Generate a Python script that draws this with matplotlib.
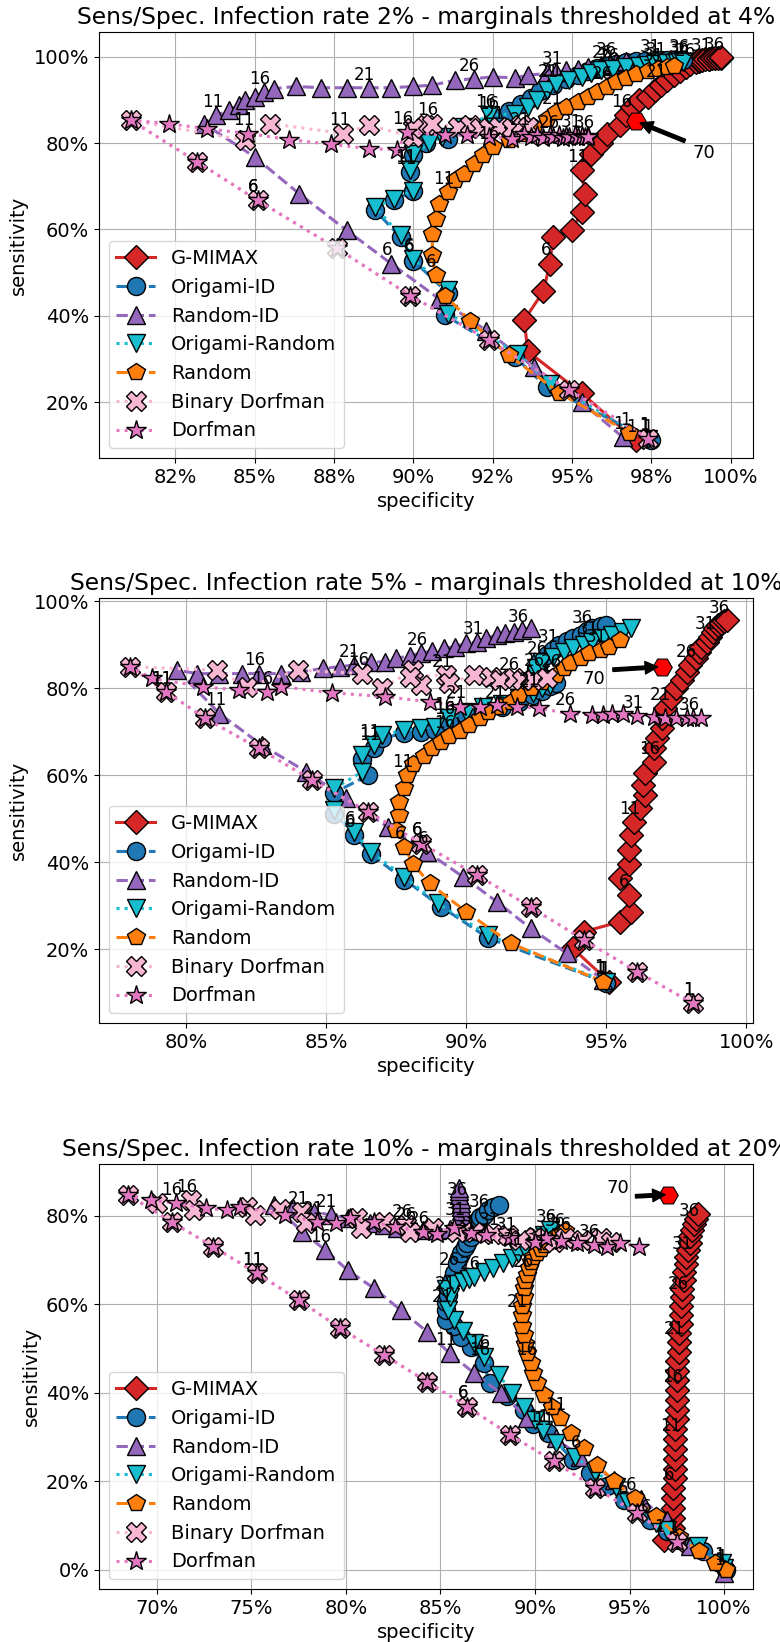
import matplotlib
matplotlib.use('Agg')
from matplotlib import pyplot as plt

plt.rcParams['font.size'] = 14

methods = ['G-MIMAX', 'Origami-ID', 'Random-ID', 'Origami-Random', 'Random', 'Binary Dorfman', 'Dorfman']
colors = ['#d62728', '#1f77b4', '#9467bd', '#17becf', '#ff7f0e', '#f7b6d2', '#e377c2']
markers = ['D', 'o', '^', 'v', 'p', 'X', '*']
linestyles = ['-', '--', '--', ':', '--', ':', ':']
msizes = [12.5, 13, 13, 13, 13, 14, 15]

titles = ['Sens/Spec. Infection rate 2% - marginals thresholded at 4%',
          'Sens/Spec. Infection rate 5% - marginals thresholded at 10%',
          'Sens/Spec. Infection rate 10% - marginals thresholded at 20%']

# ---------------- panel 1 (rate 2%) ----------------
p1_gmimax_spec = [0.970, 0.953, 0.936, 0.935, 0.941, 0.943, 0.944, 0.950, 0.953, 0.954, 0.953, 0.956, 0.959, 0.961, 0.965,
                  0.967, 0.969, 0.971, 0.974, 0.976, 0.978, 0.980, 0.982, 0.984, 0.986, 0.987, 0.989, 0.990, 0.990, 0.991,
                  0.992, 0.993, 0.993, 0.994, 0.995, 0.996, 0.997, 0.997]
p1_gmimax_sens = [0.112, 0.221, 0.318, 0.391, 0.457, 0.521, 0.582, 0.598, 0.640, 0.683, 0.737, 0.775, 0.799, 0.822, 0.841,
                  0.864, 0.883, 0.899, 0.906, 0.922, 0.934, 0.945, 0.957, 0.967, 0.976, 0.982, 0.988, 0.991, 0.992, 0.993,
                  0.994, 0.995, 0.995, 0.996, 0.996, 0.997, 0.998, 0.999]
p1_origid_spec = [0.975, 0.942, 0.932, 0.910, 0.911, 0.900, 0.896, 0.888, 0.894, 0.900, 0.899, 0.900, 0.904, 0.911, 0.918,
                  0.925, 0.930, 0.934, 0.937, 0.940, 0.944, 0.948, 0.952, 0.955, 0.958, 0.961, 0.964, 0.967, 0.970, 0.973,
                  0.976, 0.978, 0.980, 0.982, 0.984, 0.985]
p1_origid_sens = [0.112, 0.235, 0.305, 0.401, 0.452, 0.528, 0.582, 0.644, 0.667, 0.690, 0.733, 0.772, 0.799, 0.810, 0.835,
                  0.860, 0.875, 0.890, 0.905, 0.920, 0.935, 0.948, 0.958, 0.966, 0.973, 0.979, 0.984, 0.987, 0.989, 0.990,
                  0.991, 0.992, 0.992, 0.993, 0.993, 0.992]
p1_randid_spec = [0.966, 0.953, 0.938, 0.923, 0.908, 0.893, 0.879, 0.864, 0.850, 0.834, 0.838, 0.842, 0.845, 0.847, 0.850,
                  0.853, 0.856, 0.863, 0.871, 0.879, 0.886, 0.893, 0.900, 0.906, 0.913, 0.919, 0.925, 0.932, 0.936, 0.942,
                  0.945, 0.948, 0.952, 0.955, 0.959, 0.962, 0.964, 0.967]
p1_randid_sens = [0.119, 0.200, 0.281, 0.366, 0.440, 0.521, 0.598, 0.683, 0.768, 0.845, 0.864, 0.876, 0.887, 0.899, 0.906,
                  0.918, 0.926, 0.931, 0.928, 0.928, 0.928, 0.928, 0.931, 0.934, 0.945, 0.949, 0.953, 0.951, 0.957, 0.961,
                  0.964, 0.968, 0.972, 0.976, 0.980, 0.984, 0.988, 0.991]
p1_origrand_spec = [0.974, 0.943, 0.933, 0.911, 0.911, 0.900, 0.896, 0.888, 0.894, 0.900, 0.899, 0.900, 0.905, 0.909, 0.916,
                    0.924, 0.932, 0.936, 0.939, 0.942, 0.945, 0.949, 0.953, 0.956, 0.959, 0.963, 0.967, 0.971, 0.974, 0.976,
                    0.978, 0.980, 0.982, 0.983, 0.984, 0.985]
p1_origrand_sens = [0.115, 0.243, 0.312, 0.405, 0.459, 0.532, 0.586, 0.652, 0.671, 0.690, 0.737, 0.775, 0.799, 0.814, 0.838,
                    0.864, 0.868, 0.883, 0.899, 0.922, 0.937, 0.945, 0.953, 0.961, 0.968, 0.972, 0.976, 0.979, 0.981, 0.983,
                    0.984, 0.985, 0.986, 0.986, 0.987, 0.987]
p1_random_spec = [0.968, 0.946, 0.930, 0.918, 0.910, 0.907, 0.906, 0.906, 0.907, 0.908, 0.911, 0.913, 0.916, 0.919, 0.922,
                  0.925, 0.930, 0.934, 0.938, 0.942, 0.945, 0.948, 0.952, 0.955, 0.958, 0.961, 0.964, 0.967, 0.970, 0.974,
                  0.977, 0.980, 0.982]
p1_random_sens = [0.129, 0.222, 0.309, 0.388, 0.447, 0.495, 0.540, 0.590, 0.625, 0.660, 0.687, 0.714, 0.729, 0.752, 0.772,
                  0.791, 0.806, 0.822, 0.837, 0.856, 0.872, 0.883, 0.895, 0.906, 0.918, 0.930, 0.941, 0.951, 0.959, 0.966,
                  0.972, 0.976, 0.978]
p1_bdorf_spec = [0.974, 0.949, 0.924, 0.899, 0.876, 0.851, 0.832, 0.811, 0.847, 0.855, 0.878, 0.886, 0.900, 0.904, 0.900,
                 0.906, 0.914, 0.918, 0.921, 0.924, 0.927, 0.931, 0.934, 0.936]
p1_bdorf_sens = [0.116, 0.229, 0.343, 0.447, 0.556, 0.667, 0.756, 0.853, 0.806, 0.845, 0.822, 0.841, 0.814, 0.841, 0.834,
                 0.845, 0.837, 0.841, 0.834, 0.834, 0.837, 0.834, 0.841, 0.836]
p1_dorf_spec = [0.974, 0.949, 0.924, 0.899, 0.876, 0.851, 0.832, 0.811, 0.823, 0.835, 0.848, 0.861, 0.874, 0.886, 0.895,
                0.898, 0.910, 0.917, 0.924, 0.931, 0.935, 0.937, 0.939, 0.941, 0.943, 0.944, 0.946, 0.947, 0.948, 0.949,
                0.951, 0.952, 0.953, 0.954, 0.955, 0.955]
p1_dorf_sens = [0.116, 0.229, 0.343, 0.447, 0.556, 0.667, 0.756, 0.853, 0.845, 0.833, 0.822, 0.808, 0.797, 0.787, 0.785,
                0.825, 0.818, 0.818, 0.814, 0.810, 0.822, 0.815, 0.818, 0.812, 0.818, 0.815, 0.818, 0.812, 0.816, 0.814,
                0.818, 0.814, 0.817, 0.813, 0.817, 0.815]

# ---------------- panel 2 (rate 5%) ----------------
p2_gmimax_spec = [0.951, 0.938, 0.942, 0.955, 0.959, 0.958, 0.955, 0.958, 0.958, 0.959, 0.960, 0.962, 0.964, 0.963, 0.964,
                  0.967, 0.967, 0.968, 0.970, 0.970, 0.971, 0.973, 0.975, 0.977, 0.979, 0.980, 0.982, 0.983, 0.984, 0.986,
                  0.987, 0.988, 0.989, 0.990, 0.991, 0.992, 0.993]
p2_gmimax_sens = [0.125, 0.202, 0.240, 0.263, 0.286, 0.324, 0.363, 0.397, 0.428, 0.462, 0.493, 0.524, 0.554, 0.578, 0.605,
                  0.631, 0.662, 0.685, 0.708, 0.731, 0.754, 0.777, 0.800, 0.819, 0.838, 0.854, 0.869, 0.884, 0.896, 0.907,
                  0.919, 0.929, 0.938, 0.945, 0.950, 0.954, 0.957]
p2_origid_spec = [0.950, 0.908, 0.891, 0.878, 0.866, 0.860, 0.853, 0.853, 0.865, 0.863, 0.867, 0.870, 0.878, 0.884, 0.889,
                  0.894, 0.900, 0.906, 0.913, 0.919, 0.924, 0.927, 0.930, 0.932, 0.929, 0.926, 0.925, 0.926, 0.926, 0.929,
                  0.931, 0.933, 0.936, 0.938, 0.941, 0.943, 0.945, 0.948, 0.950]
p2_origid_sens = [0.123, 0.225, 0.298, 0.360, 0.418, 0.463, 0.512, 0.560, 0.600, 0.637, 0.662, 0.685, 0.697, 0.700, 0.704,
                  0.722, 0.738, 0.750, 0.757, 0.769, 0.785, 0.795, 0.805, 0.812, 0.822, 0.833, 0.845, 0.855, 0.861, 0.877,
                  0.888, 0.900, 0.909, 0.916, 0.924, 0.932, 0.938, 0.943, 0.947]
p2_randid_spec = [0.949, 0.936, 0.923, 0.911, 0.899, 0.886, 0.872, 0.857, 0.843, 0.827, 0.812, 0.797, 0.804, 0.812, 0.820,
                  0.826, 0.834, 0.841, 0.849, 0.855, 0.860, 0.866, 0.871, 0.875, 0.880, 0.884, 0.888, 0.892, 0.896, 0.900,
                  0.904, 0.907, 0.911, 0.914, 0.917, 0.920, 0.923]
p2_randid_sens = [0.129, 0.190, 0.248, 0.309, 0.366, 0.424, 0.481, 0.547, 0.608, 0.670, 0.742, 0.842, 0.834, 0.834, 0.834,
                  0.834, 0.834, 0.838, 0.846, 0.850, 0.854, 0.861, 0.861, 0.869, 0.875, 0.882, 0.886, 0.892, 0.896, 0.904,
                  0.907, 0.915, 0.923, 0.927, 0.930, 0.934, 0.938]
p2_origrand_spec = [0.950, 0.908, 0.890, 0.878, 0.866, 0.860, 0.853, 0.853, 0.863, 0.863, 0.867, 0.870, 0.878, 0.884, 0.889,
                    0.894, 0.900, 0.906, 0.913, 0.919, 0.924, 0.927, 0.930, 0.925, 0.925, 0.927, 0.931, 0.935, 0.938, 0.942,
                    0.945, 0.949, 0.952, 0.956, 0.959]
p2_origrand_sens = [0.125, 0.232, 0.305, 0.366, 0.424, 0.470, 0.520, 0.570, 0.608, 0.647, 0.670, 0.693, 0.704, 0.708, 0.712,
                    0.731, 0.746, 0.758, 0.765, 0.777, 0.789, 0.800, 0.808, 0.830, 0.846, 0.861, 0.873, 0.884, 0.892, 0.900,
                    0.907, 0.915, 0.923, 0.930, 0.938]
p2_random_spec = [0.949, 0.916, 0.900, 0.887, 0.881, 0.878, 0.875, 0.876, 0.876, 0.878, 0.879, 0.881, 0.885, 0.888, 0.891,
                  0.894, 0.898, 0.901, 0.905, 0.908, 0.912, 0.916, 0.919, 0.923, 0.927, 0.932, 0.935, 0.937, 0.941, 0.944,
                  0.948, 0.951, 0.955]
p2_random_sens = [0.125, 0.213, 0.286, 0.351, 0.397, 0.435, 0.474, 0.508, 0.539, 0.570, 0.600, 0.625, 0.645, 0.663, 0.677,
                  0.690, 0.703, 0.716, 0.731, 0.746, 0.758, 0.769, 0.785, 0.800, 0.815, 0.831, 0.846, 0.858, 0.869, 0.881,
                  0.888, 0.896, 0.911]
p2_bdorf_spec = [0.981, 0.961, 0.942, 0.923, 0.904, 0.884, 0.865, 0.845, 0.826, 0.807, 0.793, 0.780, 0.811, 0.822, 0.840,
                 0.863, 0.870, 0.881, 0.884, 0.880, 0.893, 0.894, 0.903, 0.909, 0.912, 0.917, 0.920, 0.924, 0.929]
p2_bdorf_sens = [0.075, 0.148, 0.221, 0.297, 0.370, 0.443, 0.516, 0.589, 0.662, 0.731, 0.792, 0.850, 0.842, 0.804, 0.842,
                 0.834, 0.800, 0.842, 0.808, 0.827, 0.831, 0.812, 0.831, 0.827, 0.819, 0.823, 0.819, 0.819, 0.823]
p2_dorf_spec = [0.981, 0.961, 0.942, 0.923, 0.904, 0.884, 0.865, 0.845, 0.826, 0.807, 0.793, 0.780, 0.788, 0.806, 0.819,
                0.829, 0.834, 0.852, 0.871, 0.887, 0.898, 0.905, 0.911, 0.918, 0.926, 0.937, 0.945, 0.949, 0.952, 0.956,
                0.961, 0.967, 0.971, 0.975, 0.979, 0.981, 0.984]
p2_dorf_sens = [0.075, 0.148, 0.221, 0.297, 0.370, 0.443, 0.516, 0.589, 0.662, 0.731, 0.792, 0.850, 0.823, 0.804, 0.796,
                0.792, 0.804, 0.790, 0.781, 0.769, 0.758, 0.758, 0.762, 0.758, 0.754, 0.742, 0.739, 0.739, 0.742, 0.740,
                0.737, 0.735, 0.733, 0.733, 0.731, 0.731, 0.731]

# ---------------- panel 3 (rate 10%) ----------------
p3_gmimax_spec = [0.968, 0.973, 0.973, 0.973, 0.973, 0.973, 0.974, 0.974, 0.974, 0.974, 0.974, 0.974, 0.975, 0.975, 0.975,
                  0.975, 0.975, 0.975, 0.975, 0.976, 0.976, 0.976, 0.977, 0.977, 0.977, 0.978, 0.978, 0.979, 0.979, 0.980,
                  0.980, 0.981, 0.982, 0.982, 0.983, 0.984, 0.985, 0.986]
p3_gmimax_sens = [0.068, 0.095, 0.118, 0.140, 0.162, 0.185, 0.207, 0.229, 0.251, 0.273, 0.296, 0.318, 0.340, 0.362, 0.384,
                  0.406, 0.428, 0.450, 0.471, 0.493, 0.514, 0.535, 0.556, 0.576, 0.596, 0.616, 0.635, 0.654, 0.672, 0.690,
                  0.707, 0.723, 0.739, 0.754, 0.768, 0.781, 0.793, 0.805]
p3_origid_spec = [1.001, 0.998, 0.989, 0.976, 0.970, 0.961, 0.947, 0.938, 0.929, 0.920, 0.907, 0.899, 0.894, 0.885, 0.876,
                  0.873, 0.866, 0.861, 0.857, 0.853, 0.853, 0.853, 0.854, 0.854, 0.856, 0.857, 0.859, 0.861, 0.863, 0.864,
                  0.866, 0.867, 0.868, 0.870, 0.871, 0.873, 0.875, 0.878, 0.881]
p3_origid_sens = [0.000, 0.015, 0.042, 0.068, 0.087, 0.113, 0.158, 0.189, 0.219, 0.249, 0.309, 0.330, 0.362, 0.392, 0.422,
                  0.467, 0.504, 0.527, 0.550, 0.565, 0.587, 0.605, 0.622, 0.640, 0.655, 0.670, 0.693, 0.715, 0.729, 0.738,
                  0.752, 0.765, 0.775, 0.790, 0.797, 0.802, 0.813, 0.820, 0.824]
p3_randid_spec = [1.000, 0.982, 0.970, 0.956, 0.942, 0.924, 0.911, 0.896, 0.882, 0.868, 0.855, 0.843, 0.829, 0.815, 0.801,
                  0.789, 0.777, 0.762, 0.772, 0.783, 0.792, 0.801, 0.813, 0.820, 0.827, 0.834, 0.841, 0.848, 0.855, 0.860,
                  0.860, 0.861, 0.861, 0.861, 0.861, 0.861, 0.861, 0.860, 0.860, 0.860]
p3_randid_sens = [-0.007, 0.053, 0.113, 0.160, 0.203, 0.256, 0.297, 0.343, 0.399, 0.444, 0.489, 0.538, 0.587, 0.636, 0.677,
                  0.723, 0.764, 0.824, 0.817, 0.809, 0.802, 0.794, 0.783, 0.779, 0.772, 0.772, 0.768, 0.768, 0.770, 0.775,
                  0.784, 0.793, 0.802, 0.811, 0.820, 0.829, 0.838, 0.847, 0.855, 0.862]
p3_origrand_spec = [1.000, 0.999, 0.986, 0.970, 0.964, 0.949, 0.943, 0.932, 0.921, 0.911, 0.904, 0.900, 0.894, 0.888, 0.881,
                    0.873, 0.868, 0.862, 0.857, 0.854, 0.855, 0.853, 0.857, 0.862, 0.865, 0.868, 0.873, 0.878, 0.883, 0.888,
                    0.891, 0.895, 0.898, 0.902, 0.905, 0.908]
p3_origrand_sens = [0.004, 0.015, 0.053, 0.091, 0.106, 0.154, 0.188, 0.222, 0.256, 0.287, 0.316, 0.339, 0.369, 0.400, 0.440,
                    0.482, 0.512, 0.540, 0.565, 0.587, 0.617, 0.635, 0.647, 0.651, 0.657, 0.662, 0.673, 0.681, 0.693, 0.704,
                    0.715, 0.726, 0.738, 0.745, 0.756, 0.768]
p3_random_spec = [1.001, 0.995, 0.987, 0.976, 0.964, 0.953, 0.942, 0.933, 0.926, 0.919, 0.913, 0.909, 0.905, 0.901, 0.899,
                  0.898, 0.896, 0.895, 0.894, 0.893, 0.893, 0.893, 0.894, 0.894, 0.895, 0.896, 0.897, 0.898, 0.899, 0.901,
                  0.903, 0.905, 0.907, 0.909, 0.911, 0.913, 0.915, 0.916]
p3_random_sens = [0.000, 0.015, 0.042, 0.075, 0.121, 0.162, 0.200, 0.237, 0.275, 0.309, 0.343, 0.369, 0.395, 0.422, 0.444,
                  0.467, 0.489, 0.510, 0.530, 0.552, 0.575, 0.597, 0.617, 0.636, 0.652, 0.667, 0.682, 0.695, 0.706, 0.716,
                  0.725, 0.733, 0.741, 0.748, 0.754, 0.759, 0.762, 0.765]
p3_bdorf_spec = [0.975, 0.954, 0.932, 0.910, 0.887, 0.864, 0.843, 0.820, 0.797, 0.775, 0.753, 0.730, 0.708, 0.685, 0.700,
                 0.718, 0.720, 0.748, 0.752, 0.765, 0.777, 0.779, 0.806, 0.808, 0.820, 0.832, 0.834, 0.846, 0.859, 0.868,
                 0.878, 0.886, 0.892, 0.900, 0.910, 0.916, 0.925, 0.935, 0.940]
p3_bdorf_sens = [0.064, 0.128, 0.185, 0.245, 0.305, 0.369, 0.425, 0.486, 0.546, 0.610, 0.670, 0.730, 0.786, 0.847, 0.830,
                 0.835, 0.813, 0.820, 0.802, 0.815, 0.809, 0.783, 0.794, 0.772, 0.785, 0.779, 0.764, 0.772, 0.764, 0.764,
                 0.760, 0.756, 0.745, 0.752, 0.741, 0.749, 0.745, 0.749, 0.741]
p3_dorf_spec = [0.975, 0.954, 0.932, 0.910, 0.887, 0.864, 0.843, 0.820, 0.797, 0.775, 0.753, 0.730, 0.708, 0.685, 0.697,
                0.710, 0.726, 0.737, 0.744, 0.768, 0.785, 0.795, 0.802, 0.815, 0.826, 0.841, 0.848, 0.857, 0.866, 0.874,
                0.887, 0.900, 0.906, 0.914, 0.922, 0.931, 0.938, 0.945, 0.955]
p3_dorf_sens = [0.064, 0.128, 0.185, 0.245, 0.305, 0.369, 0.425, 0.486, 0.546, 0.610, 0.670, 0.730, 0.786, 0.847, 0.835,
                0.828, 0.817, 0.813, 0.820, 0.802, 0.786, 0.783, 0.794, 0.785, 0.775, 0.764, 0.760, 0.772, 0.762, 0.756,
                0.749, 0.741, 0.749, 0.742, 0.738, 0.734, 0.730, 0.738, 0.730]

# the highlighted point "70" in each panel
best_spec = [0.970, 0.970, 0.9705]
best_sens = [0.851, 0.850, 0.848]
best_text_offset = [(49, -23), (-49, -9), (-36, 5)]

# axis ticks
p1_xticks = [0.825, 0.85, 0.875, 0.9, 0.925, 0.95, 0.975, 1.0]
p1_xticklabels = ['82%', '85%', '88%', '90%', '92%', '95%', '98%', '100%']
p2_xticks = [0.80, 0.85, 0.90, 0.95, 1.0]
p2_xticklabels = ['80%', '85%', '90%', '95%', '100%']
p3_xticks = [0.70, 0.75, 0.80, 0.85, 0.90, 0.95, 1.0]
p3_xticklabels = ['70%', '75%', '80%', '85%', '90%', '95%', '100%']
p12_yticks = [0.2, 0.4, 0.6, 0.8, 1.0]
p12_yticklabels = ['20%', '40%', '60%', '80%', '100%']
p3_yticks = [0.0, 0.2, 0.4, 0.6, 0.8]
p3_yticklabels = ['0%', '20%', '40%', '60%', '80%']

panels = [
    {'series': [(p1_gmimax_spec, p1_gmimax_sens), (p1_origid_spec, p1_origid_sens), (p1_randid_spec, p1_randid_sens),
                (p1_origrand_spec, p1_origrand_sens), (p1_random_spec, p1_random_sens),
                (p1_bdorf_spec, p1_bdorf_sens), (p1_dorf_spec, p1_dorf_sens)],
     'rect': [0.1269, 0.7211, 0.8385, 0.2594], 'xlim': (0.801, 1.007), 'ylim': (0.071, 1.057),
     'xticks': (p1_xticks, p1_xticklabels), 'yticks': (p12_yticks, p12_yticklabels)},
    {'series': [(p2_gmimax_spec, p2_gmimax_sens), (p2_origid_spec, p2_origid_sens), (p2_randid_spec, p2_randid_sens),
                (p2_origrand_spec, p2_origrand_sens), (p2_random_spec, p2_random_sens),
                (p2_bdorf_spec, p2_bdorf_sens), (p2_dorf_spec, p2_dorf_sens)],
     'rect': [0.1269, 0.3770, 0.8385, 0.2588], 'xlim': (0.769, 1.0024), 'ylim': (0.030, 1.008),
     'xticks': (p2_xticks, p2_xticklabels), 'yticks': (p12_yticks, p12_yticklabels)},
    {'series': [(p3_gmimax_spec, p3_gmimax_sens), (p3_origid_spec, p3_origid_sens), (p3_randid_spec, p3_randid_sens),
                (p3_origrand_spec, p3_origrand_sens), (p3_random_spec, p3_random_sens),
                (p3_bdorf_spec, p3_bdorf_sens), (p3_dorf_spec, p3_dorf_sens)],
     'rect': [0.1269, 0.0323, 0.8385, 0.2588], 'xlim': (0.6695, 1.0153), 'ylim': (-0.043, 0.917),
     'xticks': (p3_xticks, p3_xticklabels), 'yticks': (p3_yticks, p3_yticklabels)},
]

fig = plt.figure(figsize=(7.8, 16.42), dpi=100)

for n, p in enumerate(panels):
    ax = fig.add_axes(p['rect'])
    for k, (xs, ys) in enumerate(p['series']):
        ax.plot(xs, ys, color=colors[k], marker=markers[k], linestyle=linestyles[k], lw=2.2,
                ms=msizes[k], mec='k', mew=1, label=methods[k])
        # every 5th point gets its index
        for i in range(0, len(xs), 5):
            ax.annotate(str(i + 1), (xs[i], ys[i]), xytext=(-3, 3), textcoords='offset points',
                        ha='center', va='bottom', fontsize=12)
    ax.plot([best_spec[n]], [best_sens[n]], 'H', color='red', ms=14, mec='k', mew=0.8)
    ax.annotate('70', (best_spec[n], best_sens[n]), xytext=best_text_offset[n], textcoords='offset points',
                ha='center', va='center', fontsize=13,
                arrowprops=dict(facecolor='black', edgecolor='black', width=2.5, headwidth=9,
                                headlength=9, shrink=0.08))
    ax.set_xlim(*p['xlim'])
    ax.set_ylim(*p['ylim'])
    ax.set_xticks(p['xticks'][0])
    ax.set_xticklabels(p['xticks'][1])
    ax.set_yticks(p['yticks'][0])
    ax.set_yticklabels(p['yticks'][1])
    ax.grid(True)
    ax.set_title(titles[n])
    ax.set_xlabel('specificity')
    ax.set_ylabel('sensitivity')
    ax.legend(loc='lower left')

plt.savefig('out.png', dpi=100)
